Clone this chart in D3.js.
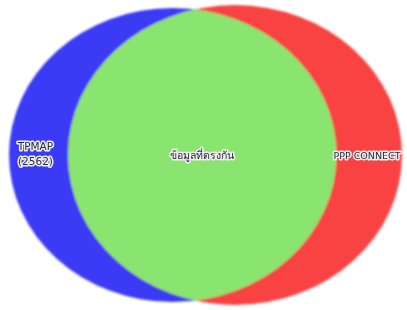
<!DOCTYPE html>
<html><head><meta charset="utf-8">
<script src="https://cdn.jsdelivr.net/npm/d3@7"></script>
<style>html,body{margin:0;padding:0;background:#fff;overflow:hidden}</style>
</head><body>
<script>
const setNames = ["TPMAP (2562)", "PPP CONNECT"];
const overlapLabel = "ข้อมูลที่ตรงกัน";
const setColors = ["#3b3bf6", "#f94343"];
const overlapColor = "#8ae470";
// set extents on a unit layout axis (left edge, right edge) and vertical extents
const setXExtent = [[0, 100], [18, 120]];
const setYExtent = [[1, 99], [0, 100]];

const W = 407, H = 310;
const x = d3.scaleLinear().domain([0, 120]).range([9, 402]);
const y = d3.scaleLinear().domain([0, 100]).range([5, 305]);

const svg = d3.select("body").append("svg").attr("width", W).attr("height", H);
const defs = svg.append("defs");
defs.append("filter").attr("id", "soft").append("feGaussianBlur").attr("stdDeviation", 0.8);
defs.append("filter").attr("id", "softT").append("feGaussianBlur").attr("stdDeviation", 0.35);

const ell = setNames.map((n, i) => ({
  name: n, color: setColors[i],
  cx: (x(setXExtent[i][0]) + x(setXExtent[i][1])) / 2,
  rx: (x(setXExtent[i][1]) - x(setXExtent[i][0])) / 2,
  cy: (y(setYExtent[i][0]) + y(setYExtent[i][1])) / 2,
  ry: (y(setYExtent[i][1]) - y(setYExtent[i][0])) / 2
}));

defs.append("clipPath").attr("id", "clipA").append("ellipse")
  .attr("cx", ell[0].cx).attr("cy", ell[0].cy).attr("rx", ell[0].rx).attr("ry", ell[0].ry);

const g = svg.append("g").attr("filter", "url(#soft)");
g.selectAll("ellipse.set").data(ell).join("ellipse").attr("class", "set")
  .attr("cx", d => d.cx).attr("cy", d => d.cy).attr("rx", d => d.rx).attr("ry", d => d.ry)
  .attr("fill", d => d.color);
g.append("ellipse").attr("clip-path", "url(#clipA)")
  .attr("cx", ell[1].cx).attr("cy", ell[1].cy).attr("rx", ell[1].rx).attr("ry", ell[1].ry)
  .attr("fill", overlapColor);

const labelStyle = sel => sel.attr("font-family", "DejaVu Sans, Noto Sans, sans-serif")
  .attr("font-size", 10.5).attr("fill", "#2a2a3a").attr("stroke", "#eeeeee").attr("stroke-width", 3)
  .attr("stroke-linejoin", "round").attr("paint-order", "stroke").attr("text-anchor", "middle")
  .attr("filter", "url(#softT)");

const lx = (ell[0].cx - ell[0].rx + ell[1].cx - ell[1].rx) / 2 - 3;
const left = svg.append("text").call(labelStyle).attr("x", lx).attr("y", 150);
setNames[0].split(" ").forEach((w, i) => left.append("tspan").attr("x", lx).attr("dy", i ? 15 : 0).text(w));

svg.append("text").call(labelStyle).attr("x", (ell[1].cx - ell[1].rx + ell[0].cx + ell[0].rx) / 2).attr("y", 159).text(overlapLabel);
svg.append("text").call(labelStyle).attr("text-anchor", "start").attr("font-size", 9.5)
  .attr("x", ell[0].cx + ell[0].rx - 3).attr("y", 159).text(setNames[1]);
</script>
</body></html>
